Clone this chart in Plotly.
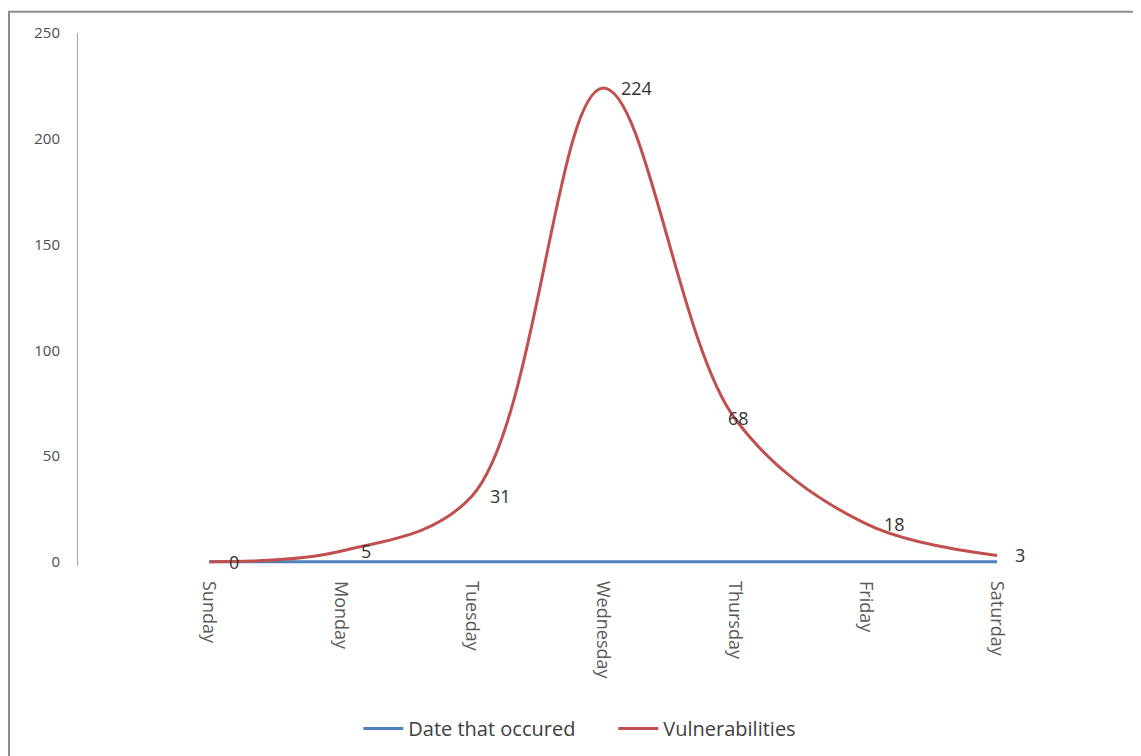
import plotly.graph_objects as go

days = ["Sunday", "Monday", "Tuesday", "Wednesday", "Thursday", "Friday", "Saturday"]
date_occured = [0, 0, 0, 0, 0, 0, 0]
vulnerabilities = [0, 5, 31, 224, 68, 18, 3]
label_shift = [18, 18, 16, 16, -8, 16, 16]
y_ticks = [0, 50, 100, 150, 200, 250]

x_idx = list(range(len(days)))
FONT = "Open Sans, Lato, sans-serif"

fig = go.Figure()
fig.add_trace(go.Scatter(
    x=x_idx, y=date_occured, mode="lines", name="Date that occured",
    line=dict(color="#4F81BD", width=3)))
fig.add_trace(go.Scatter(
    x=x_idx, y=vulnerabilities, mode="lines", name="Vulnerabilities",
    line=dict(color="#C0504D", width=3, shape="spline", smoothing=1.0)))

for xi, v, s in zip(x_idx, vulnerabilities, label_shift):
    fig.add_annotation(x=xi, y=v, text=str(v), showarrow=False,
                       xanchor="left", yanchor="middle", xshift=s,
                       font=dict(family=FONT, size=18, color="#333333"))

fig.add_shape(type="rect", xref="paper", yref="paper",
              x0=-0.0751, x1=1.2, y0=-0.5, y1=1.0397,
              line=dict(color="#8c8c8c", width=2), fillcolor="rgba(0,0,0,0)", layer="below")

fig.update_layout(
    width=1141, height=756,
    margin=dict(l=70, r=152, t=25, b=198),
    plot_bgcolor="white", paper_bgcolor="white",
    showlegend=True,
    legend=dict(orientation="h", x=0.305, xanchor="left", y=-0.305, yanchor="middle",
                font=dict(family=FONT, size=20, color="#404040"),
                itemwidth=40, entrywidth=200, entrywidthmode="pixels",
                tracegroupgap=0),
    xaxis=dict(range=[-1, 6], tickmode="array", tickvals=x_idx, ticktext=days,
               tickangle=90, showgrid=False, zeroline=False, showline=False,
               ticks="", ticklabelstandoff=14,
               tickfont=dict(family=FONT, size=18, color="#595959")),
    yaxis=dict(range=[-2, 250], tickmode="array", tickvals=y_ticks,
               showgrid=False, zeroline=False, showline=True, linecolor="#aaaaaa", linewidth=1,
               ticks="", ticklabelstandoff=14,
               tickfont=dict(family=FONT, size=15, color="#4d4d4d")),
)

fig.write_html("out.html")
